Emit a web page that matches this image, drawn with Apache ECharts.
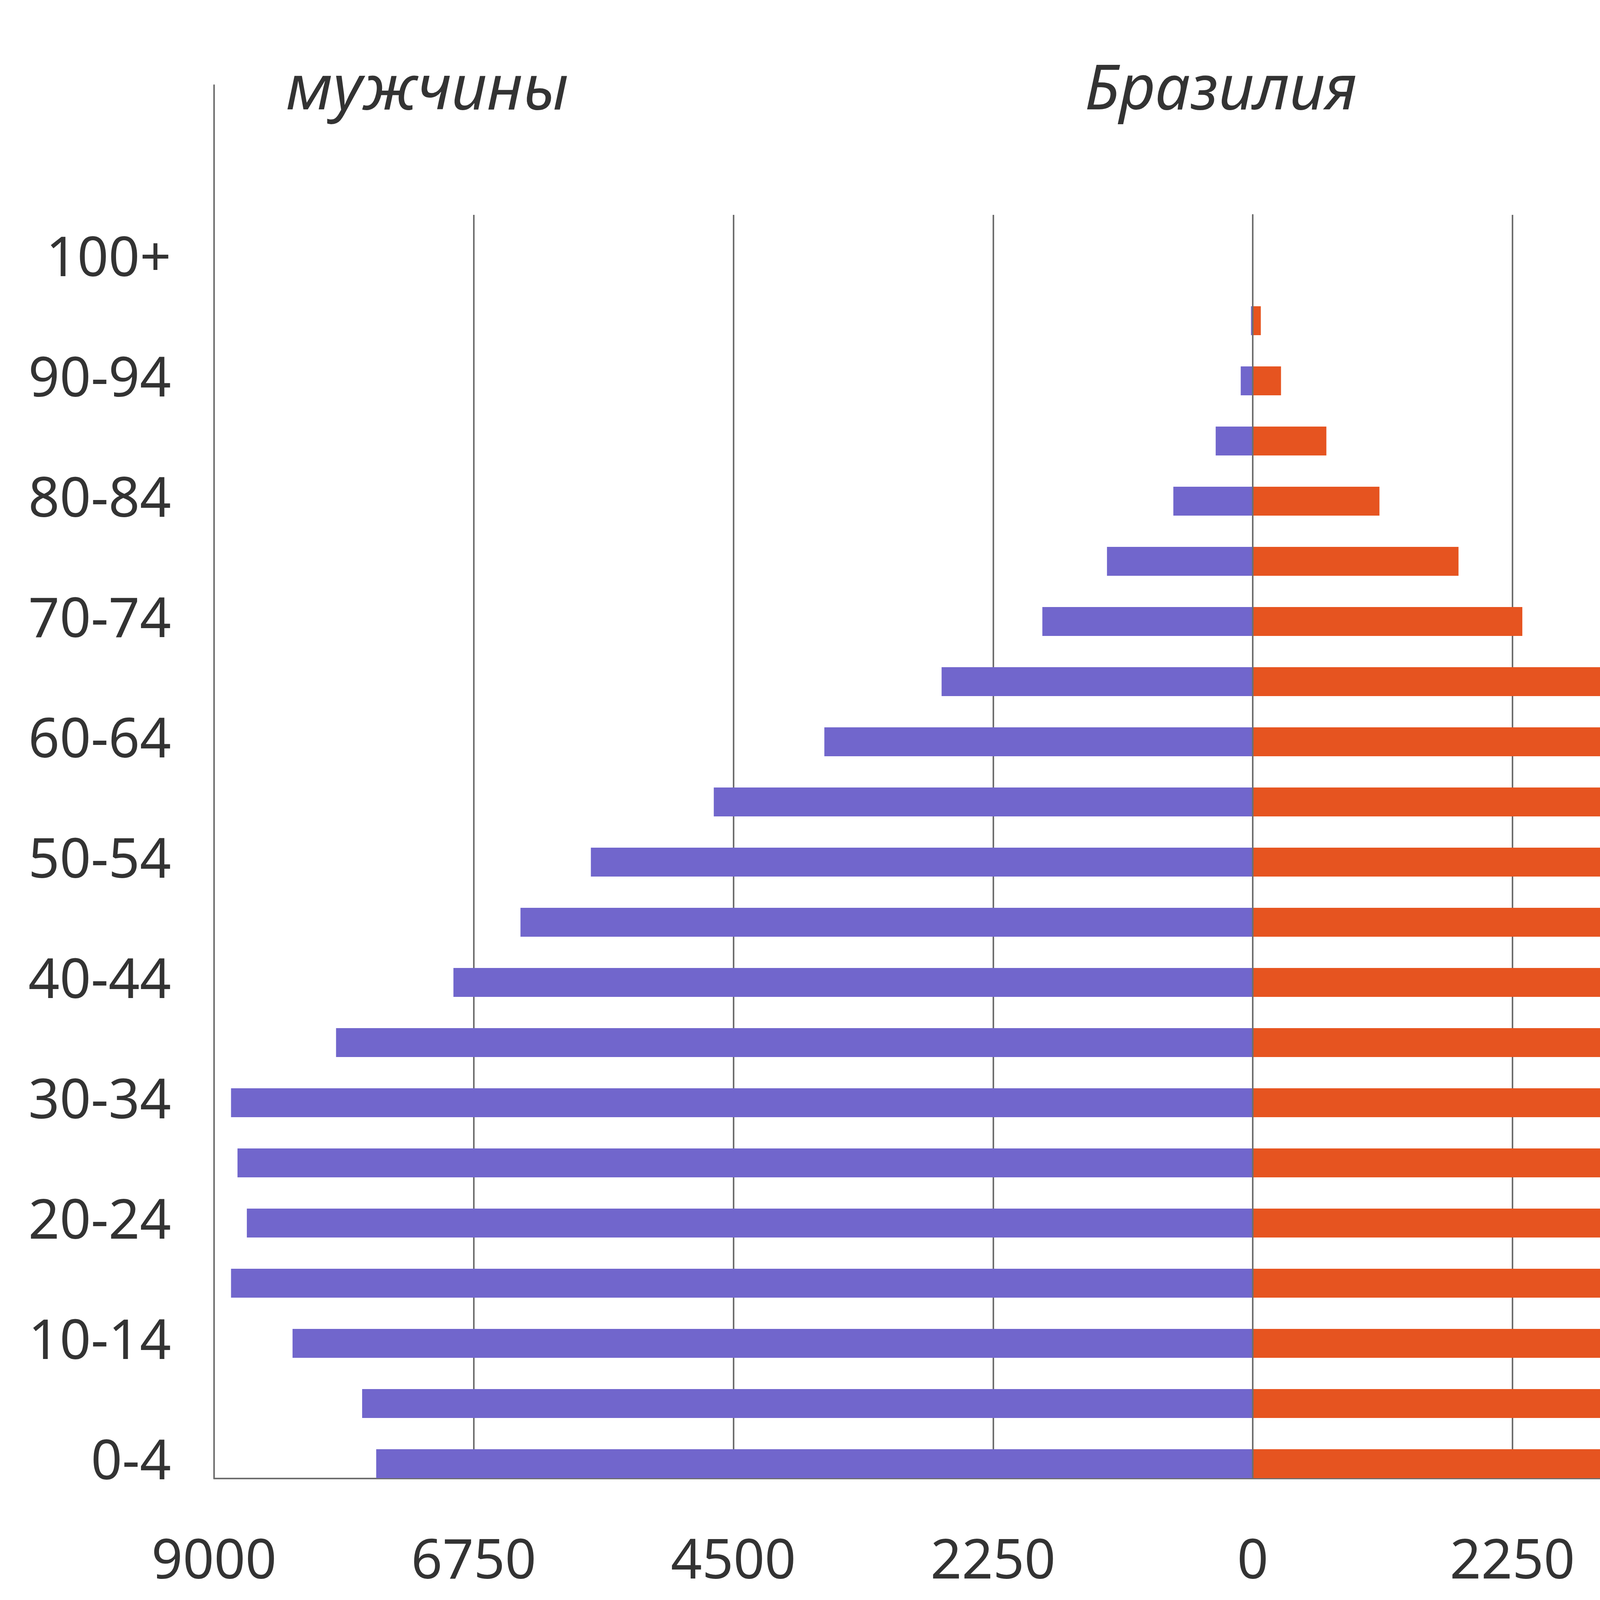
<!DOCTYPE html>
<html>
<head>
<meta charset="utf-8">
<script src="https://cdn.jsdelivr.net/npm/echarts@6/dist/echarts.min.js"></script>
<style>
  html, body { margin: 0; padding: 0; background: #ffffff; }
  #chart { width: 6251px; height: 4255px; }
</style>
</head>
<body>
<div id="chart"></div>
<script>
// ---- data ----
const categories = ['0-4','5-9','10-14','15-19','20-24','25-29','30-34','35-39','40-44','45-49',
                    '50-54','55-59','60-64','65-69','70-74','75-79','80-84','85-89','90-94','95-99','100+'];
const male   = [7595, 7717, 8320, 8853, 8716, 8797, 8853, 7943, 6926, 6345,
                5735, 4670, 3712, 2696, 1823, 1263, 688, 321, 104, 15, 0];
const female = [7288, 7435, 8046, 8570, 8515, 8691, 8867, 8131, 7255, 6827,
                6300, 5257, 4306, 3255, 2336, 1783, 1098, 638, 245, 70, 0];
const titles = ['мужчины', 'Бразилия', 'женщины'];
const xMin = -9000, xMax = 9000, xStep = 2250;

// ---- style ----
const FONT = "'Noto Sans', 'DejaVu Sans', sans-serif";
const TEXT = '#333333';
const LINE = '#6e6e6e';
const MALE_COLOR = '#7166cc';
const FEMALE_COLOR = '#e65420';

const chart = echarts.init(document.getElementById('chart'), null, { renderer: 'canvas' });

const titleStyle = { fontFamily: FONT, fontSize: 160, fontStyle: 'italic', fontWeight: 'normal', color: TEXT };

const option = {
  animation: false,
  backgroundColor: '#ffffff',
  title: [
    { text: titles[0], left: 732, top: 154, padding: 0, textStyle: titleStyle },
    { text: titles[1], left: 'center', top: 154, padding: 0, textStyle: titleStyle },
    { text: titles[2], right: 363, top: 154, padding: 0, textStyle: titleStyle }
  ],
  grid: [
    // bars
    { left: 548, right: 385, top: 590, bottom: 431 },
    // gridlines + x labels
    { left: 548, right: 385, top: 550, bottom: 470 },
    // tall left axis line
    { left: 548, width: 200, top: 218, bottom: 470 }
  ],
  xAxis: [
    { gridIndex: 0, type: 'value', min: xMin, max: xMax, interval: xStep, show: false },
    {
      gridIndex: 1, type: 'value', min: xMin, max: xMax, interval: xStep,
      axisLine: { show: true, onZero: false, lineStyle: { color: LINE, width: 4 } },
      axisTick: { show: false },
      splitLine: { show: true, lineStyle: { color: LINE, width: 4 } },
      axisLabel: {
        color: TEXT, fontFamily: FONT, fontSize: 140, margin: 146,
        formatter: v => String(Math.abs(v))
      }
    },
    { gridIndex: 2, type: 'value', min: 0, max: 1, show: false }
  ],
  yAxis: [
    {
      gridIndex: 0, type: 'category', data: categories,
      axisLine: { show: false }, axisTick: { show: false }, splitLine: { show: false },
      axisLabel: {
        interval: 1, color: TEXT, fontFamily: FONT, fontSize: 140, margin: 110,
        padding: [0, 0, 34, 0]
      }
    },
    {
      gridIndex: 1, type: 'value', min: 0, max: 1, z: 10,
      axisLine: { show: true, onZero: true, lineStyle: { color: LINE, width: 4 } },
      axisTick: { show: false }, axisLabel: { show: false }, splitLine: { show: false }
    },
    {
      gridIndex: 2, type: 'value', min: 0, max: 1,
      axisLine: { show: true, onZero: false, lineStyle: { color: LINE, width: 4 } },
      axisTick: { show: false }, axisLabel: { show: false }, splitLine: { show: false }
    }
  ],
  series: [
    {
      name: 'мужчины', type: 'bar', xAxisIndex: 0, yAxisIndex: 0,
      data: male.map(v => -v), barWidth: 74, barGap: '-100%',
      itemStyle: { color: MALE_COLOR }
    },
    {
      name: 'женщины', type: 'bar', xAxisIndex: 0, yAxisIndex: 0,
      data: female, barWidth: 74, barGap: '-100%',
      itemStyle: { color: FEMALE_COLOR }
    }
  ]
};

chart.setOption(option);
</script>
</body>
</html>
